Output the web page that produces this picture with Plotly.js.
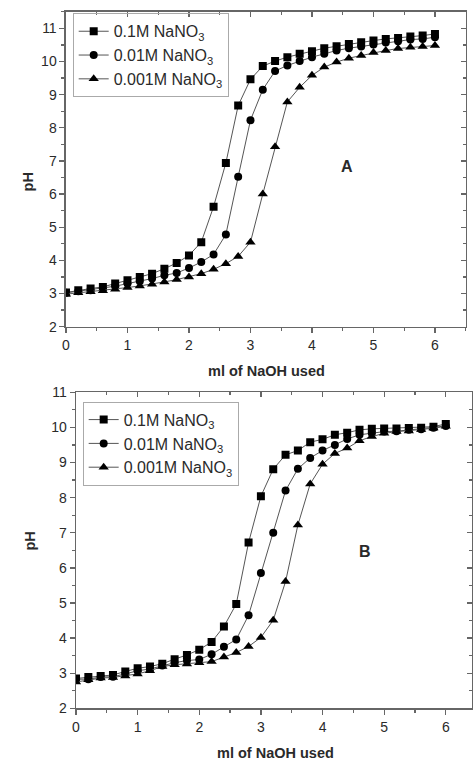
<!DOCTYPE html>
<html><head><meta charset="utf-8">
<script src="https://cdn.plot.ly/plotly-3.0.1.min.js"></script>
<style>html,body{margin:0;padding:0;background:#fff}#chart{width:473px;height:771px}</style>
</head><body><div id="chart"></div>
<script>
// volume of NaOH (ml)
const mlNaOH = [0,0.2,0.4,0.6,0.8,1.0,1.2,1.4,1.6,1.8,2.0,2.2,2.4,2.6,2.8,3.0,3.2,3.4,3.6,3.8,4.0,4.2,4.4,4.6,4.8,5.0,5.2,5.4,5.6,5.8,6.0];
const seriesNames = ['0.1M NaNO<sub>3</sub>', '0.01M NaNO<sub>3</sub>', '0.001M NaNO<sub>3</sub>'];
const seriesSymbols = ['square', 'circle', 'triangle-up'];

// Panel A
const pHA_01  = [3.03,3.10,3.15,3.20,3.30,3.40,3.50,3.60,3.75,3.92,4.15,4.55,5.62,6.94,8.67,9.46,9.86,10.01,10.13,10.23,10.31,10.40,10.46,10.53,10.58,10.63,10.68,10.71,10.75,10.78,10.83];
const pHA_001 = [3.02,3.07,3.10,3.15,3.22,3.30,3.37,3.45,3.55,3.62,3.77,3.95,4.18,4.78,6.52,8.23,9.15,9.71,9.88,10.01,10.13,10.23,10.33,10.40,10.45,10.51,10.57,10.61,10.66,10.68,10.73];
const pHA_0001= [2.98,3.02,3.05,3.08,3.13,3.18,3.23,3.28,3.35,3.42,3.50,3.60,3.73,3.90,4.12,4.55,6.00,7.43,8.78,9.22,9.58,9.83,9.98,10.10,10.18,10.27,10.33,10.39,10.43,10.45,10.48];

// Panel B
const pHB_01  = [2.85,2.89,2.92,2.95,3.05,3.14,3.19,3.27,3.40,3.52,3.67,3.89,4.33,4.97,6.72,8.04,8.81,9.22,9.34,9.58,9.66,9.79,9.85,9.93,9.96,9.97,9.97,9.98,9.99,10.02,10.10];
const pHB_001 = [2.83,2.83,2.89,2.90,2.98,3.07,3.12,3.22,3.30,3.36,3.39,3.54,3.75,3.96,4.65,5.85,7.00,8.20,8.82,9.13,9.34,9.50,9.67,9.79,9.83,9.88,9.89,9.93,9.95,9.99,10.04];
const pHB_0001= [2.75,2.81,2.86,2.88,2.92,2.98,3.07,3.19,3.24,3.26,3.30,3.33,3.46,3.59,3.76,4.02,4.51,5.61,7.22,8.39,8.95,9.26,9.41,9.62,9.74,9.83,9.88,9.90,9.94,9.98,10.03];

const xTickVals = [0,1,2,3,4,5,6];
const xTickText = ['0','1','2','3','4','5','6'];
const yTickVals = [2,3,4,5,6,7,8,9,10,11];
const yTickText = ['2','3','4','5','6','7','8','9','10','11'];
const xTitle = 'ml of NaOH used';
const yTitle = 'pH';
const panelLabels = ['A', 'B'];

const FONT = 'Liberation Sans, Arial, sans-serif';
const AX = '#666';
const TXT = '#2a2a2a';

function mk(y, i, xa, ya, lg) {
  return {
    x: mlNaOH, y: y, name: seriesNames[i], type: 'scatter', mode: 'lines+markers',
    xaxis: xa, yaxis: ya, legend: lg,
    line: {color: '#555', width: 1},
    marker: {symbol: seriesSymbols[i], size: i === 2 ? 9 : 8, color: '#000'}
  };
}
// empty helper traces so the mirrored top/right frame axes get drawn
function frame(xa, ya) {
  return {x: [], y: [], type: 'scatter', mode: 'none', xaxis: xa, yaxis: ya,
          showlegend: false, hoverinfo: 'skip'};
}

const data = [
  mk(pHA_01, 0, 'x', 'y', 'legend'),
  mk(pHA_001, 1, 'x', 'y', 'legend'),
  mk(pHA_0001, 2, 'x', 'y', 'legend'),
  mk(pHB_01, 0, 'x2', 'y2', 'legend2'),
  mk(pHB_001, 1, 'x2', 'y2', 'legend2'),
  mk(pHB_0001, 2, 'x2', 'y2', 'legend2'),
  frame('x3', 'y'), frame('x', 'y3'),
  frame('x4', 'y2'), frame('x2', 'y4')
];

function xax(domain, range, anchor, extra) {
  return Object.assign({
    domain: domain, range: range, anchor: anchor, autorange: false,
    tickmode: 'array', tickvals: xTickVals, ticktext: xTickText,
    ticks: 'outside', ticklen: 5, tickwidth: 1.3, tickcolor: AX,
    minor: {tick0: 0, dtick: 0.5, ticks: 'outside', ticklen: 3, tickwidth: 1.3, tickcolor: AX, showgrid: false},
    showline: true, linecolor: AX, linewidth: 1.5,
    showgrid: false, zeroline: false,
    tickfont: {family: FONT, size: 14, color: TXT}
  }, extra || {});
}
function yax(domain, range, anchor, extra) {
  return Object.assign({
    domain: domain, range: range, anchor: anchor, autorange: false,
    tickmode: 'array', tickvals: yTickVals, ticktext: yTickText,
    ticks: 'outside', ticklen: 5, tickwidth: 1.3, tickcolor: AX,
    minor: {tick0: 0, dtick: 0.5, ticks: 'outside', ticklen: 3, tickwidth: 1.3, tickcolor: AX, showgrid: false},
    showline: true, linecolor: AX, linewidth: 1.5,
    showgrid: false, zeroline: false,
    tickfont: {family: FONT, size: 14, color: TXT}
  }, extra || {});
}
const mirrorX = {side: 'top', ticks: 'inside', showticklabels: false,
  minor: {tick0: 0, dtick: 0.5, ticks: 'inside', ticklen: 3, tickwidth: 1.3, tickcolor: AX, showgrid: false}};
const mirrorY = {side: 'right', ticks: 'inside', showticklabels: false,
  minor: {tick0: 0, dtick: 0.5, ticks: 'inside', ticklen: 3, tickwidth: 1.3, tickcolor: AX, showgrid: false}};

const domXA = [0.1395, 0.9846], domYA = [0.5763, 0.9848];
const domXB = [0.1607, 0.9985], domYB = [0.0813, 0.4912];
const rangeXA = [0, 6.5], rangeYA = [2, 11.5];
const rangeXB = [0, 6.43], rangeYB = [2, 11];

const legendStyle = {
  bgcolor: 'rgba(255,255,255,0)', bordercolor: '#aaa', borderwidth: 1,
  font: {family: FONT, size: 16, color: TXT}, xanchor: 'left', yanchor: 'top',
  tracegroupgap: 0, itemwidth: 30
};

const layout = {
  width: 473, height: 771,
  margin: {l: 0, r: 0, t: 0, b: 0},
  paper_bgcolor: '#fff', plot_bgcolor: '#fff',
  showlegend: true,
  xaxis: xax(domXA, rangeXA, 'y'),
  yaxis: yax(domYA, rangeYA, 'x'),
  xaxis3: xax(domXA, rangeXA, 'y', Object.assign({overlaying: 'x'}, mirrorX)),
  yaxis3: yax(domYA, rangeYA, 'x', Object.assign({overlaying: 'y'}, mirrorY)),
  xaxis2: xax(domXB, rangeXB, 'y2'),
  yaxis2: yax(domYB, rangeYB, 'x2'),
  xaxis4: xax(domXB, rangeXB, 'y2', Object.assign({overlaying: 'x2'}, mirrorX)),
  yaxis4: yax(domYB, rangeYB, 'x2', Object.assign({overlaying: 'y2'}, mirrorY)),
  legend: Object.assign({x: 0.1537, y: 0.9827}, legendStyle),
  legend2: Object.assign({x: 0.1748, y: 0.479}, legendStyle),
  annotations: [
    {text: '<b>' + panelLabels[0] + '</b>', x: 4.57, y: 6.82, xref: 'x', yref: 'y', showarrow: false,
     font: {family: FONT, size: 16, color: TXT}},
    {text: '<b>' + panelLabels[1] + '</b>', x: 4.69, y: 6.46, xref: 'x2', yref: 'y2', showarrow: false,
     font: {family: FONT, size: 16, color: TXT}},
    {text: '<b>' + xTitle + '</b>', x: 0.5624, y: 0.5192, xref: 'paper', yref: 'paper', showarrow: false,
     font: {family: FONT, size: 14.5, color: TXT}},
    {text: '<b>' + xTitle + '</b>', x: 0.5814, y: 0.0108, xref: 'paper', yref: 'paper', showarrow: false,
     font: {family: FONT, size: 14.5, color: TXT}},
    {text: '<b>' + yTitle + '</b>', x: 0.038, y: 0.7795, xref: 'paper', yref: 'paper', showarrow: false, textangle: -90,
     font: {family: FONT, size: 14.5, color: TXT}},
    {text: '<b>' + yTitle + '</b>', x: 0.0423, y: 0.2827, xref: 'paper', yref: 'paper', showarrow: false, textangle: -90,
     font: {family: FONT, size: 14.5, color: TXT}}
  ]
};

Plotly.newPlot('chart', data, layout, {displayModeBar: false, staticPlot: true});
</script>
</body></html>
